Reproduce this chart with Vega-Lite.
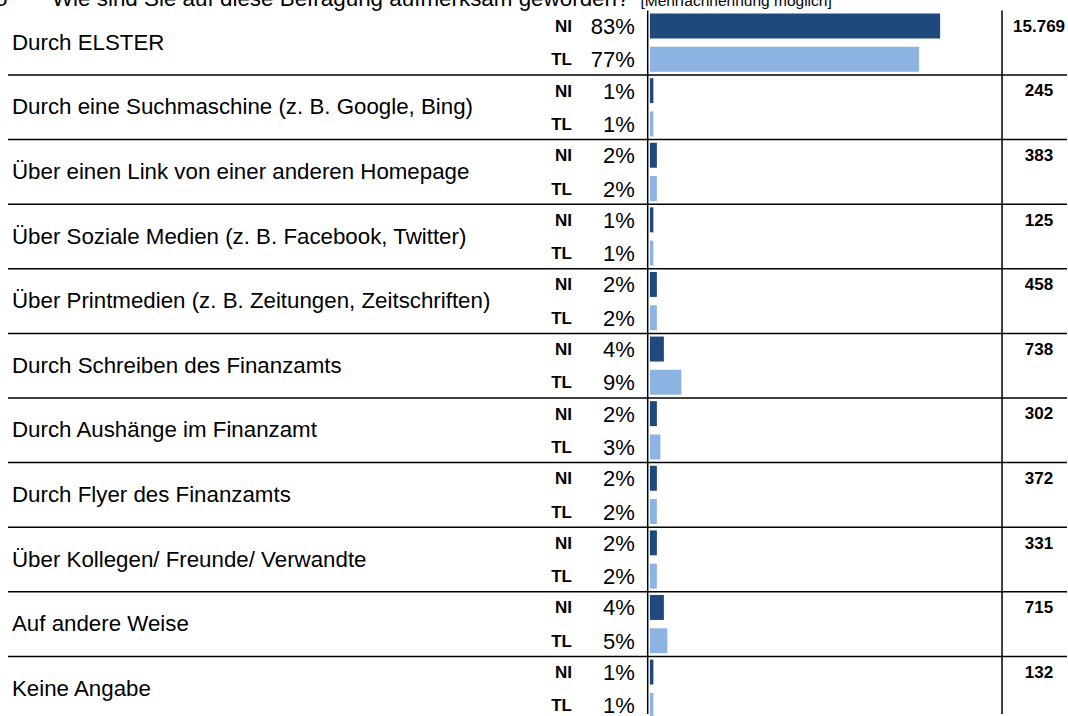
{
  "$schema": "https://vega.github.io/schema/vega-lite/v6.json",
  "width": 1068,
  "height": 716,
  "autosize": {"type": "fit", "contains": "padding"},
  "padding": 0,
  "background": "white",
  "config": {
    "view": {"stroke": null},
    "locale": {"number": {"decimal": ",", "thousands": ".", "grouping": [3], "currency": ["", " €"]}},
    "text": {"font": "Liberation Sans", "color": "#000000"}
  },
  "datasets": {
    "anteile": [
      {"Kategorie": "Durch ELSTER", "Gruppe": "NI", "Anteil": 0.83},
      {"Kategorie": "Durch ELSTER", "Gruppe": "TL", "Anteil": 0.77},
      {"Kategorie": "Durch eine Suchmaschine (z. B. Google, Bing)", "Gruppe": "NI", "Anteil": 0.01},
      {"Kategorie": "Durch eine Suchmaschine (z. B. Google, Bing)", "Gruppe": "TL", "Anteil": 0.01},
      {"Kategorie": "Über einen Link von einer anderen Homepage", "Gruppe": "NI", "Anteil": 0.02},
      {"Kategorie": "Über einen Link von einer anderen Homepage", "Gruppe": "TL", "Anteil": 0.02},
      {"Kategorie": "Über Soziale Medien (z. B. Facebook, Twitter)", "Gruppe": "NI", "Anteil": 0.01},
      {"Kategorie": "Über Soziale Medien (z. B. Facebook, Twitter)", "Gruppe": "TL", "Anteil": 0.01},
      {"Kategorie": "Über Printmedien (z. B. Zeitungen, Zeitschriften)", "Gruppe": "NI", "Anteil": 0.02},
      {"Kategorie": "Über Printmedien (z. B. Zeitungen, Zeitschriften)", "Gruppe": "TL", "Anteil": 0.02},
      {"Kategorie": "Durch Schreiben des Finanzamts", "Gruppe": "NI", "Anteil": 0.04},
      {"Kategorie": "Durch Schreiben des Finanzamts", "Gruppe": "TL", "Anteil": 0.09},
      {"Kategorie": "Durch Aushänge im Finanzamt", "Gruppe": "NI", "Anteil": 0.02},
      {"Kategorie": "Durch Aushänge im Finanzamt", "Gruppe": "TL", "Anteil": 0.03},
      {"Kategorie": "Durch Flyer des Finanzamts", "Gruppe": "NI", "Anteil": 0.02},
      {"Kategorie": "Durch Flyer des Finanzamts", "Gruppe": "TL", "Anteil": 0.02},
      {"Kategorie": "Über Kollegen/ Freunde/ Verwandte", "Gruppe": "NI", "Anteil": 0.02},
      {"Kategorie": "Über Kollegen/ Freunde/ Verwandte", "Gruppe": "TL", "Anteil": 0.02},
      {"Kategorie": "Auf andere Weise", "Gruppe": "NI", "Anteil": 0.04},
      {"Kategorie": "Auf andere Weise", "Gruppe": "TL", "Anteil": 0.05},
      {"Kategorie": "Keine Angabe", "Gruppe": "NI", "Anteil": 0.01},
      {"Kategorie": "Keine Angabe", "Gruppe": "TL", "Anteil": 0.01}
    ],
    "anzahl": [
      {"Kategorie": "Durch ELSTER", "Anzahl": 15769},
      {"Kategorie": "Durch eine Suchmaschine (z. B. Google, Bing)", "Anzahl": 245},
      {"Kategorie": "Über einen Link von einer anderen Homepage", "Anzahl": 383},
      {"Kategorie": "Über Soziale Medien (z. B. Facebook, Twitter)", "Anzahl": 125},
      {"Kategorie": "Über Printmedien (z. B. Zeitungen, Zeitschriften)", "Anzahl": 458},
      {"Kategorie": "Durch Schreiben des Finanzamts", "Anzahl": 738},
      {"Kategorie": "Durch Aushänge im Finanzamt", "Anzahl": 302},
      {"Kategorie": "Durch Flyer des Finanzamts", "Anzahl": 372},
      {"Kategorie": "Über Kollegen/ Freunde/ Verwandte", "Anzahl": 331},
      {"Kategorie": "Auf andere Weise", "Anzahl": 715},
      {"Kategorie": "Keine Angabe", "Anzahl": 132}
    ]
  },
  "layer": [
    {
      "data": {"name": "anteile"},
      "mark": {"type": "bar"},
      "encoding": {
        "x": {
          "field": "Anteil",
          "type": "quantitative",
          "scale": {"domain": [-1.85857, 1.19286], "nice": false, "zero": false},
          "axis": null
        },
        "x2": {"datum": 0},
        "y": {
          "field": "Kategorie",
          "type": "nominal",
          "scale": {
            "domain": [
              "Durch ELSTER",
              "Durch eine Suchmaschine (z. B. Google, Bing)",
              "Über einen Link von einer anderen Homepage",
              "Über Soziale Medien (z. B. Facebook, Twitter)",
              "Über Printmedien (z. B. Zeitungen, Zeitschriften)",
              "Durch Schreiben des Finanzamts",
              "Durch Aushänge im Finanzamt",
              "Durch Flyer des Finanzamts",
              "Über Kollegen/ Freunde/ Verwandte",
              "Auf andere Weise",
              "Keine Angabe"
            ],
            "range": [10.4, 721],
            "paddingInner": 0,
            "paddingOuter": 0
          },
          "axis": null
        },
        "yOffset": {
          "field": "Gruppe",
          "type": "nominal",
          "scale": {"domain": ["NI", "TL"], "paddingInner": 0.25, "paddingOuter": 0.095}
        },
        "color": {
          "field": "Gruppe",
          "type": "nominal",
          "scale": {"domain": ["NI", "TL"], "range": ["#1F497D", "#8DB3E2"]},
          "legend": null
        }
      }
    },
    {
      "data": {"name": "anzahl"},
      "transform": [{"filter": "datum.Kategorie !== 'Durch ELSTER'"}],
      "mark": {"type": "rule", "color": "#000000", "strokeWidth": 1.5},
      "encoding": {
        "y": {"field": "Kategorie", "type": "nominal", "bandPosition": 0},
        "x": {"datum": -1.8357},
        "x2": {"datum": 1.19286}
      }
    },
    {
      "data": {"values": [{}]},
      "mark": {"type": "rule", "color": "#000000", "strokeWidth": 1.5, "clip": true},
      "encoding": {
        "x": {"datum": -0.0063},
        "y": {"datum": "Durch ELSTER", "bandPosition": 0},
        "y2": {"datum": "Keine Angabe", "bandPosition": 1}
      }
    },
    {
      "data": {"values": [{}]},
      "mark": {"type": "rule", "color": "#000000", "strokeWidth": 1.5, "clip": true},
      "encoding": {
        "x": {"datum": 1.0071},
        "y": {"datum": "Durch ELSTER", "bandPosition": 0},
        "y2": {"datum": "Keine Angabe", "bandPosition": 1}
      }
    },
    {
      "data": {"name": "anteile"},
      "mark": {"type": "text", "align": "right", "baseline": "middle", "fontSize": 17, "fontWeight": "bold", "font": "Liberation Sans Narrow, Arial Narrow, Liberation Sans", "dy": 1},
      "encoding": {
        "x": {"datum": -0.2229},
        "y": {"field": "Kategorie", "type": "nominal"},
        "yOffset": {"field": "Gruppe", "type": "nominal"},
        "text": {"field": "Gruppe"}
      }
    },
    {
      "data": {"name": "anteile"},
      "mark": {"type": "text", "align": "right", "baseline": "middle", "fontSize": 22, "dy": 1},
      "encoding": {
        "x": {"datum": -0.0429},
        "y": {"field": "Kategorie", "type": "nominal"},
        "yOffset": {"field": "Gruppe", "type": "nominal"},
        "text": {"field": "Anteil", "type": "quantitative", "format": ".0%"}
      }
    },
    {
      "data": {"name": "anzahl"},
      "mark": {"type": "text", "align": "left", "baseline": "middle", "fontSize": 22.3},
      "encoding": {
        "x": {"datum": -1.8243},
        "y": {"field": "Kategorie", "type": "nominal"},
        "text": {"field": "Kategorie"}
      }
    },
    {
      "data": {"name": "anzahl"},
      "mark": {"type": "text", "align": "center", "baseline": "middle", "fontSize": 17, "fontWeight": "bold"},
      "encoding": {
        "x": {"datum": 1.1129},
        "y": {"field": "Kategorie", "type": "nominal", "bandPosition": 0.254},
        "text": {"field": "Anzahl", "type": "quantitative", "format": ",d"}
      }
    },
    {
      "data": {"values": [{}]},
      "mark": {"type": "text", "text": "5", "align": "left", "baseline": "alphabetic", "fontSize": 22.4, "clip": true},
      "encoding": {
        "x": {"datum": -1.873},
        "y": {"datum": "Durch ELSTER", "bandPosition": -0.068}
      }
    },
    {
      "data": {"values": [{}]},
      "mark": {"type": "text", "text": "Wie sind Sie auf diese Befragung aufmerksam geworden?", "align": "left", "baseline": "alphabetic", "fontSize": 22.4, "clip": true},
      "encoding": {
        "x": {"datum": -1.71},
        "y": {"datum": "Durch ELSTER", "bandPosition": -0.068}
      }
    },
    {
      "data": {"values": [{}]},
      "mark": {"type": "text", "text": "[Mehrfachnennung möglich]", "align": "left", "baseline": "alphabetic", "fontSize": 15.5, "clip": true},
      "encoding": {
        "x": {"datum": -0.0271},
        "y": {"datum": "Durch ELSTER", "bandPosition": -0.068}
      }
    }
  ]
}
